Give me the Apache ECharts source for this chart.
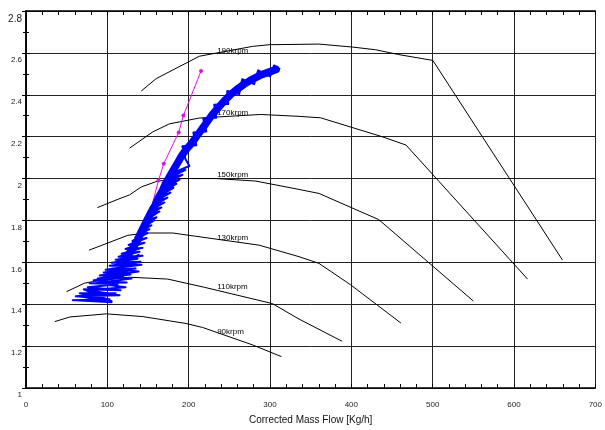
<!DOCTYPE html>
<html>
<head>
<meta charset="utf-8">
<script src="https://cdn.jsdelivr.net/npm/echarts@6/dist/echarts.min.js"></script>
<style>
html,body{margin:0;padding:0;background:#fff;}
#c{width:605px;height:430px;}
</style>
</head>
<body>
<div id="c"></div>
<script>
// ---- data (x = corrected mass flow kg/h, y = pressure ratio) ----
const xTicks = [0, 100, 200, 300, 400, 500, 600, 700];
const yTicks = [1, 1.2, 1.4, 1.6, 1.8, 2, 2.2, 2.4, 2.6, 2.8];

const speed190 = [[141.7,2.418],[160.0,2.477],[213.1,2.584],[278.4,2.631],[298.9,2.639],[360.2,2.642],[401,2.628],[429.7,2.615],[458.2,2.592],[500.2,2.564],[659.6,1.611]];
const speed170 = [[127.3,2.145],[155.9,2.223],[176.3,2.261],[213.1,2.289],[288.7,2.306],[335.7,2.297],[362.3,2.290],[437.7,2.200],[467.2,2.160],[616.7,1.520]];
const speed150 = [[87.7,1.861],[113.0,1.901],[127.3,1.922],[141.7,1.960],[162.0,1.988],[192.6,2.000],[233.6,2.000],[282.6,1.988],[335.7,1.948],[360.2,1.929],[433.7,1.804],[550.1,1.415]];
const speed130 = [[77.5,1.658],[125.2,1.729],[147.8,1.740],[180.4,1.740],[286.6,1.682],[335.7,1.627],[360.2,1.595],[399,1.493],[461,1.310]];
const speed110 = [[49.8,1.460],[72.2,1.501],[84.4,1.509],[127.3,1.529],[174.3,1.520],[219.2,1.481],[303,1.403],[335.7,1.329],[388.7,1.223]];
const speed90  = [[35.4,1.317],[53.8,1.339],[98.8,1.354],[143.6,1.341],[196.8,1.308],[217.2,1.289],[278.4,1.206],[314,1.150]];

const speedNames = ['190krpm','170krpm','150krpm','130krpm','110krpm','90krpm'];
const speedLabelX = [235, 235, 235, 235, 235, 235];
const speedLabelY = [2.612, 2.315, 2.016, 1.716, 1.485, 1.270];

const surgeLine = [[215.2,2.513],[193.5,2.301],[187.7,2.220],[169.4,2.071],[162.9,1.991],[151.8,1.826]];

// measured operating points: loose loops (low load) and fuzzy edges of the band
const operatingLoops = [
 [139.6,1.636],[112.6,1.598],[142.0,1.589],[105.3,1.570],[138.4,1.556],[95.5,1.532],[129.8,1.523],[85.7,1.500],
 [122.4,1.481],[75.9,1.467],[115.1,1.443],[66.1,1.438],[105.3,1.410],[61.2,1.419],
 [57.5,1.419],[102.8,1.424],[61.2,1.438],[110.2,1.452],[66.1,1.452],[105.3,1.415],[71.0,1.471],[116.3,1.467],
 [75.9,1.481],[112.6,1.495],[78.3,1.500],[123.7,1.504],[83.2,1.514],[120.0,1.528],[88.1,1.523],[128.6,1.542],
 [90.6,1.537],[124.9,1.556],[95.5,1.551],[134.7,1.570],[97.9,1.565],[130.9,1.584],[102.8,1.584],[140.8,1.603],
 [105.3,1.598],[137.1,1.617],[110.2,1.612],[143.3,1.631],[113.8,1.627],[139.6,1.650],[117.5,1.641],[143.3,1.669],
 [122.4,1.664],[145.7,1.693],[126.1,1.683],[148.2,1.716],[130.9,1.702],[149.4,1.740],[134.7,1.721],[151.8,1.758],
 [138.4,1.740],[154.3,1.777],[140.8,1.758],[157.9,1.801],[143.3,1.777],[160.4,1.815],[145.7,1.796],[164.1,1.843],
 [148.2,1.820],[166.5,1.862],[150.6,1.843],[170.2,1.886],[153.1,1.862],[173.9,1.909],[156.7,1.886],[177.6,1.933],
 [160.4,1.909],[181.3,1.956],[162.9,1.928],[184.9,1.975],[166.5,1.951],[188.6,1.994],[170.2,1.975],[192.3,2.018],
 [173.9,1.999],[196.0,2.041],[177.6,2.022],[200.9,2.060],
 [196.0,2.093],[192.3,2.154],[209.4,2.159],[205.8,2.220],[221.7,2.225],[218.0,2.286],[233.9,2.290],[231.5,2.352],
 [248.7,2.356],[247.4,2.418],[262.1,2.403],[265.8,2.474],[280.5,2.451],[285.4,2.517],[300.1,2.488],[305.0,2.540],
 [312.4,2.521]
];
// measured operating points: dense band core
const operatingBand = [
 [122.4,1.617],[130.9,1.664],[137.1,1.706],[142.0,1.749],[145.7,1.777],
 [149.4,1.806],[154.3,1.843],[159.2,1.876],[162.9,1.909],[167.8,1.942],[171.4,1.975],[176.3,2.008],[181.3,2.041],
 [186.2,2.074],[191.1,2.107],[197.2,2.140],[204.5,2.173],[210.7,2.206],[216.8,2.239],[222.9,2.272],[229.0,2.305],
 [236.4,2.338],[243.8,2.371],[251.1,2.399],[259.7,2.427],[268.3,2.451],[278.1,2.474],[287.9,2.493],[297.7,2.507],
 [307.5,2.521]
];

// ---- chart ----
const FONT = 'Liberation Sans, Arial, sans-serif';
const chart = echarts.init(document.getElementById('c'), null, {renderer: 'canvas'});

const speedSets = [speed190, speed170, speed150, speed130, speed110, speed90];
const series = speedSets.map((d, i) => ({
  name: speedNames[i], type: 'line', data: d, showSymbol: false, symbol: 'none',
  lineStyle: {color: '#000', width: 1}, z: 2, silent: true
}));
series.push({
  type: 'scatter', symbolSize: 0, z: 3, silent: true,
  itemStyle: {color: '#000', opacity: 1},
  data: speedNames.map((n, i) => [speedLabelX[i], speedLabelY[i], n]),
  label: {show: true, position: [0, 0], align: 'left', verticalAlign: 'middle', opacity: 1,
          textBorderWidth: 0, textShadowBlur: 0,
          formatter: p => p.value[2], color: '#000', fontSize: 8, fontFamily: FONT}
});
series.push({
  type: 'line', data: surgeLine, symbol: 'circle', symbolSize: 4, showSymbol: true, z: 4,
  itemStyle: {color: '#e010e8'}, lineStyle: {color: '#e010e8', width: 1}, silent: true
});
series.push({
  type: 'line', data: operatingLoops, showSymbol: false, symbol: 'none', z: 5,
  lineStyle: {color: '#0000ff', width: 2, join: 'round'}, silent: true
});
series.push({
  type: 'line', data: operatingBand, showSymbol: false, symbol: 'none', z: 5,
  lineStyle: {color: '#0000ff', width: 7.5, join: 'round', cap: 'round'}, silent: true
});

const option = {
  animation: false,
  backgroundColor: '#fff',
  grid: {left: 26, top: 11, width: 572, height: 382, containLabel: false},
  xAxis: [{
    type: 'value', min: xTicks[0], max: xTicks[xTicks.length - 1], interval: 100,
    axisLine: {show: true, lineStyle: {color: '#000', width: 1.5}},
    axisTick: {show: true, inside: true, length: 4, lineStyle: {color: '#000'}},
    minorTick: {show: true, splitNumber: 5, length: 4, lineStyle: {color: '#000'}},
    splitLine: {show: true, lineStyle: {color: '#222', width: 1}},
    axisLabel: {color: '#222', fontSize: 8, fontFamily: FONT, margin: 13},
    name: 'Corrected Mass Flow [Kg/h]', nameLocation: 'middle', nameGap: 27,
    nameTextStyle: {color: '#111', fontSize: 10, fontFamily: FONT}
  }, {
    type: 'value', position: 'top', min: xTicks[0], max: xTicks[xTicks.length - 1], interval: 100,
    axisLine: {show: true, lineStyle: {color: '#000', width: 1.5}},
    axisTick: {show: true, inside: true, length: 4, lineStyle: {color: '#000'}},
    minorTick: {show: true, splitNumber: 5, length: 4, lineStyle: {color: '#000'}},
    splitLine: {show: false}, axisLabel: {show: false}
  }],
  yAxis: [{
    type: 'value', min: yTicks[0], max: yTicks[yTicks.length - 1], interval: 0.2,
    axisLine: {show: true, lineStyle: {color: '#000', width: 1.5}},
    axisTick: {show: true, inside: true, length: 4, lineStyle: {color: '#000'}},
    minorTick: {show: true, splitNumber: 2, length: 3, lineStyle: {color: '#000'}},
    splitLine: {show: true, lineStyle: {color: '#222', width: 1}},
    axisLabel: {
      color: '#222', fontSize: 8, fontFamily: FONT, margin: 4, verticalAlign: 'top', padding: [3, 0, 0, 0],
      formatter: v => (Math.abs(v - 2.8) < 1e-9 ? '{big|' + v + '}' : String(+v.toFixed(1))),
      rich: {big: {fontSize: 10, fontFamily: FONT, color: '#222'}}
    }
  }, {
    type: 'value', position: 'right', min: yTicks[0], max: yTicks[yTicks.length - 1], interval: 0.2,
    axisLine: {show: true, lineStyle: {color: '#000', width: 1.5}},
    axisTick: {show: true, inside: true, length: 4, lineStyle: {color: '#000'}},
    minorTick: {show: true, splitNumber: 2, length: 3, lineStyle: {color: '#000'}},
    splitLine: {show: false}, axisLabel: {show: false}
  }],
  series: series
};
chart.setOption(option);
</script>
</body>
</html>
